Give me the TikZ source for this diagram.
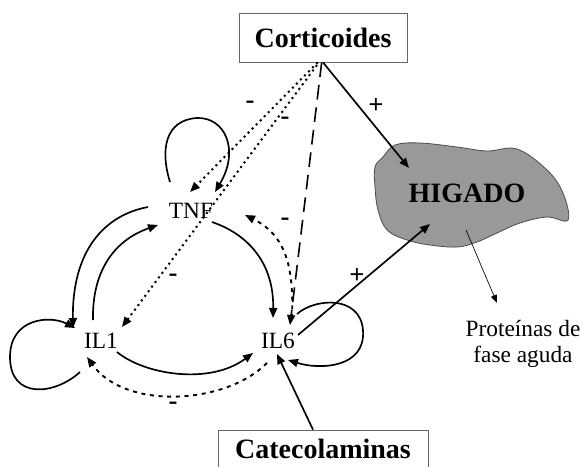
\documentclass[tikz,border=0pt]{standalone}
\usepackage{fontspec}
\setmainfont{Liberation Serif}
\usepackage{tikz}
\usetikzlibrary{arrows.meta}
\newcommand{\lblfont}{\fontsize{17.5}{19}\selectfont}
\newcommand{\sgnfont}{\fontsize{20}{22}\selectfont\bfseries}
\newcommand{\boxfont}{\fontsize{21}{24}\selectfont\bfseries}

\begin{document}
\begin{tikzpicture}[x=0.75pt,y=-0.75pt,
  lbl/.style={inner sep=2pt,font=\lblfont},
  sgn/.style={inner sep=0pt,font=\sgnfont},
  srcbox/.style={draw=black!60,line width=0.6pt,inner sep=0pt,font=\boxfont},
  act/.style={line width=1.25pt,-{Triangle[length=7.5pt,width=6pt]}},
  dotline/.style={line width=1.5pt,dash pattern=on 1.5pt off 2.8pt,-{Triangle[length=7.5pt,width=6pt]}},
  shortdash/.style={line width=1.4pt,dash pattern=on 3pt off 3.5pt,-{Triangle[length=7.5pt,width=6pt]}},
  longdash/.style={line width=1.2pt,dash pattern=on 11pt off 6pt,-{Triangle[length=7.5pt,width=6pt]}}]
\useasboundingbox (0,0) rectangle (585,467);
\clip (0,0) rectangle (585,467);

% higado
\draw[draw=black!70,fill=black!40,line width=0.6pt] plot[smooth cycle,tension=0.6] coordinates {(395,145) (420,143) (457,147) (487,151) (517,149) (547,170) (563,193) (568,220) (547,217) (520,223) (497,233) (477,242) (457,247) (430,245) (407,240) (387,230) (378,210) (375,187) (375,167) (383,157)};

\node[srcbox,minimum width=126pt,minimum height=36.75pt] (cort) at (323,37.5) {Corticoides};
\node[srcbox,minimum width=157.5pt,minimum height=28.5pt] (cate) at (323,449) {Catecolaminas};
\node[font=\boxfont] (higado) at (467,193) {HIGADO};
\node[lbl] (tnf) at (191,211) {TNF};
\node[lbl] (il1) at (101,341) {IL1};
\node[lbl] (il6) at (278,341) {IL6};
\node[lbl,align=center] (prot) at (523,344) {Proteínas de\\fase aguda};

% self loops
\draw[act] ([shift={(-21,-29)}]tnf.center) .. controls (160,150) and (165,120) .. (197,118)
  .. controls (225,117) and (240,150) .. ([shift={(24,-19)}]tnf.center);
\draw[act] ([shift={(-21,31)}]il1.center) .. controls (55,395) and (10,400) .. (10,357)
  .. controls (10,318) and (50,315) .. ([shift={(-26,-13)}]il1.center);
\draw[act] ([shift={(19,-27)}]il6.center) .. controls (315,298) and (360,295) .. (363,330)
  .. controls (366,368) and (320,370) .. ([shift={(10,19)}]il6.center);

% cytokine network
\draw[act] ([shift={(-43,-4)}]tnf.center) .. controls (105,215) and (72,250) .. ([shift={(-28,-13)}]il1.center);
\draw[act] ([shift={(-8,-21)}]il1.center) .. controls (92,270) and (115,240) .. ([shift={(-33,14)}]tnf.center);
\draw[act] ([shift={(21,11)}]tnf.center) .. controls (250,235) and (274,265) .. ([shift={(-5,-23)}]il6.center);
\draw[act] ([shift={(16,11)}]il1.center) .. controls (145,375) and (210,385) .. ([shift={(-25,12)}]il6.center);
\draw[shortdash] ([shift={(-11,22)}]il6.center) .. controls (225,405) and (125,410) .. ([shift={(-14,16)}]il1.center);
\draw[shortdash] ([shift={(14,-23)}]il6.center) .. controls (294,265) and (285,235) .. ([shift={(54,4)}]tnf.center);

% corticoides
\draw[dotline] ([xshift=-4pt]cort.south) -- ([shift={(-1,-19)}]tnf.center);
\draw[dotline] ([xshift=-4.5pt,yshift=-2pt]cort.south) -- ([shift={(21,-14)}]il1.center);
\draw[longdash] ([xshift=-1pt]cort.south) -- ([shift={(12,-16)}]il6.center);
\draw[act] (cort.south) -- ([shift={(-58,-25)}]higado.center);

% higado
\draw[act] ([shift={(20,-6)}]il6.center) -- ([shift={(-37,31)}]higado.center);
\draw[line width=0.5pt,-{Triangle[length=6pt,width=4.5pt]}] ([shift={(-1,37)}]higado.center) -- ([shift={(-26,-41)}]prot.center);
\draw[act] ([xshift=-7.5pt]cate.north) -- ([shift={(-1,13)}]il6.center);

% signs
\node[sgn] (m1) at (250,105) {-};
\node[sgn] (m2) at (285,121) {-};
\node[sgn] (m3) at (173,278) {-};
\node[sgn] (m4) at (285,222) {-};
\node[sgn] (m5) at (173,406) {-};
\node[sgn] (p1) at (376,106) {+};
\node[sgn] (p2) at (357,276) {+};
\end{tikzpicture}
\end{document}
